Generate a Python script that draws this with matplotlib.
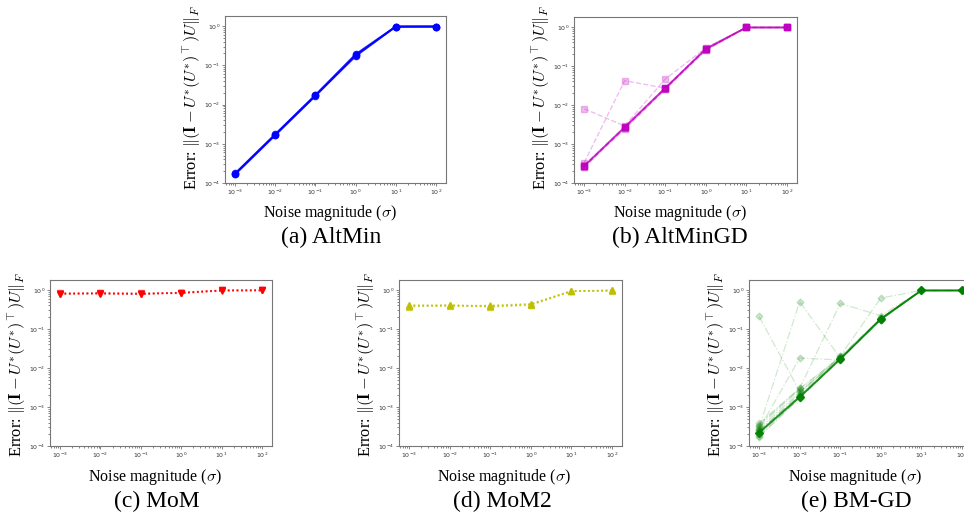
import matplotlib
matplotlib.use("Agg")
import matplotlib.pyplot as plt

plt.rcParams["mathtext.fontset"] = "cm"
plt.rcParams["font.family"] = ["Liberation Serif", "DejaVu Serif"]

W, H = 964, 512

sigma = [1e-3, 1e-2, 1e-1, 1e0, 1e1, 1e2]

# (a) AltMin: trials
altmin_runs = [
    [1.7e-4, 1.7e-3, 1.7e-2, 0.17, 0.97, 0.97],
    [1.75e-4, 1.75e-3, 1.75e-2, 0.19, 0.97, 0.97],
    [1.65e-4, 1.65e-3, 1.65e-2, 0.18, 0.96, 0.97],
]

# (b) AltMinGD
altmingd_main = [2.7e-4, 2.7e-3, 2.7e-2, 0.27, 0.97, 0.97]
altmingd_runs = [
    [2.6e-4, 2.6e-3, 2.6e-2, 0.26, 0.97, 0.97],
    [2.8e-4, 2.8e-3, 2.8e-2, 0.28, 0.97, 0.97],
    [2.5e-4, 2.5e-3, 2.5e-2, 0.25, 0.97, 0.97],
    [2.9e-4, 2.4e-3, 2.6e-2, 0.29, 0.97, 0.97],
    [8.0e-3, 2.9e-3, 4.6e-2, 0.29, 0.97, 0.97],
    [3.3e-4, 4.2e-2, 2.7e-2, 0.27, 0.97, 0.97],
]

# (c) MoM
mom_runs = [
    [0.80, 0.82, 0.80, 0.84, 0.97, 0.98],
    [0.83, 0.80, 0.78, 0.86, 0.98, 0.98],
    [0.78, 0.84, 0.82, 0.82, 0.96, 0.97],
    [0.81, 0.81, 0.79, 0.85, 0.97, 0.98],
]

# (d) MoM2
mom2_runs = [
    [0.39, 0.40, 0.38, 0.42, 0.93, 0.97],
    [0.41, 0.39, 0.40, 0.44, 0.94, 0.97],
    [0.37, 0.41, 0.37, 0.41, 0.92, 0.96],
    [0.40, 0.40, 0.39, 0.43, 0.93, 0.97],
]

# (e) BM-GD
bmgd_main = [2.2e-4, 1.8e-3, 1.7e-2, 0.18, 0.97, 0.97]
bmgd_runs = [
    [1.8e-4, 1.7e-3, 1.7e-2, 0.17, 0.97, 0.97],
    [2.0e-4, 1.8e-3, 1.7e-2, 0.18, 0.97, 0.97],
    [2.5e-4, 1.9e-3, 1.7e-2, 0.17, 0.97, 0.97],
    [1.7e-4, 1.7e-3, 1.6e-2, 0.19, 0.97, 0.97],
    [2.3e-4, 2.0e-3, 1.8e-2, 0.18, 0.97, 0.97],
    [2.8e-4, 2.4e-3, 1.9e-2, 0.19, 0.97, 0.97],
    [3.2e-4, 2.8e-3, 2.0e-2, 0.18, 0.97, 0.97],
    [3.8e-4, 3.0e-3, 1.8e-2, 0.17, 0.97, 0.97],
    [0.21, 2.5e-3, 1.7e-2, 0.18, 0.97, 0.97],
    [3.0e-4, 0.50, 1.8e-2, 0.18, 0.97, 0.97],
    [2.7e-4, 1.8e-2, 1.6e-2, 0.17, 0.97, 0.97],
    [3.5e-4, 3.0e-3, 0.45, 0.22, 0.97, 0.97],
    [2.4e-4, 2.2e-3, 2.0e-2, 0.62, 0.97, 0.97],
]

YLABEL = r"Error: $\|(\mathbf{I}-U^{*}(U^{*})^{\!\top})U\|_F$"
XLABEL = r"Noise magnitude ($\sigma$)"


def make_ax(fig, x0, x1, y0, y1, ycenter):
    # pixel box (top-left origin) -> figure fraction
    ax = fig.add_axes([x0 / W, 1 - y1 / H, (x1 - x0) / W, (y1 - y0) / H])
    ax.set_xscale("log")
    ax.set_yscale("log")
    ax.set_ylim(1e-4, 1.8)
    for s in ax.spines.values():
        s.set_color("#777777")
        s.set_linewidth(0.8)
    ax.tick_params(which="both", labelsize=4.5, colors="#555555", length=2, width=0.5,
                   labelcolor="#333333", pad=1.5)
    ax.tick_params(which="minor", length=1.2)
    for lab in ax.get_xticklabels() + ax.get_yticklabels():
        lab.set_family("DejaVu Sans")
    # y label sits ~32 px left of the axes box
    fig.text((x0 - 32) / W, 1 - ycenter / H, YLABEL, rotation=90,
             ha="center", va="center", fontsize=11.8)
    return ax


fig = plt.figure(figsize=(W / 100, H / 100), dpi=100, facecolor="white")

# --- (a) AltMin ---
ax = make_ax(fig, 225, 446, 16, 183, 97)
for r in altmin_runs:
    ax.plot(sigma, r, color="b", marker="o", ms=4.5, lw=1.4, alpha=0.8)

# --- (b) AltMinGD ---
ax = make_ax(fig, 574, 797, 17, 183, 97)
for r in altmingd_runs:
    ax.plot(sigma, r, color="m", marker="s", ms=4, lw=1.0, ls="--", alpha=0.25)
ax.plot(sigma, altmingd_main, color="m", marker="s", ms=4.5, lw=1.4, alpha=0.8)

# --- (c) MoM ---
ax = make_ax(fig, 50, 272, 280, 446, 364)
for r in mom_runs:
    ax.plot(sigma, r, color="r", marker="v", ms=4, lw=1.2, ls=":", alpha=0.6)

# --- (d) MoM2 ---
ax = make_ax(fig, 399, 622, 280, 446, 364)
for r in mom2_runs:
    ax.plot(sigma, r, color="y", marker="^", ms=4, lw=1.2, ls=":", alpha=0.6)

# --- (e) BM-GD ---
ax = make_ax(fig, 749, 972, 280, 446, 364)
for r in bmgd_runs:
    ax.plot(sigma, r, color="g", marker="D", ms=3.5, lw=0.9, ls="-.", alpha=0.18)
ax.plot(sigma, bmgd_main, color="g", marker="D", ms=4, lw=1.4, alpha=0.85)

xlab = [(330, 213), (680, 213), (155, 477), (504, 477), (855, 477)]
for x, y in xlab:
    fig.text(x / W, 1 - y / H, XLABEL, ha="center", va="center", fontsize=11.5)

captions = [("(a) AltMin", 331, 237), ("(b) AltMinGD", 680, 237), ("(c) MoM", 157, 501),
            ("(d) MoM2", 502, 501), ("(e) BM-GD", 856, 501)]
for t, x, y in captions:
    fig.text(x / W, 1 - y / H, t, ha="center", va="center", fontsize=17)

fig.savefig("out.png", dpi=100)
